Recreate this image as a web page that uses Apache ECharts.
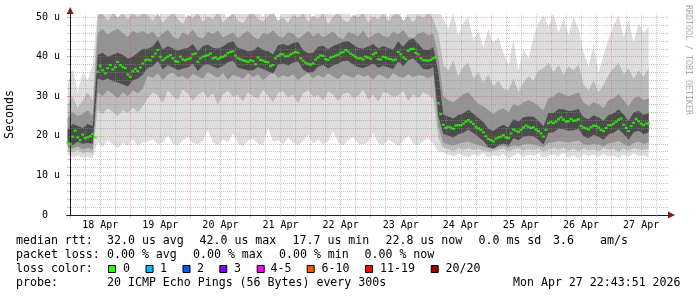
<!DOCTYPE html>
<html><head><meta charset="utf-8">
<script src="https://cdn.jsdelivr.net/npm/echarts@6/dist/echarts.min.js"></script>
<style>html,body{margin:0;padding:0;background:#fff}#c{width:697px;height:297px}</style>
</head><body><div id="c"></div>
<script>
// ---------- DATA ----------
// hours relative to Apr 18 00:00; graph spans Apr 17 22:43:51 .. Apr 27 22:43:51
const graphStartHour = -1.2692;
const graphEndHour = 238.7308;

// median RTT (us), one value per hour starting at hour -1
const medianStartHour = -1, medianStepHours = 1;
const medianRtt = [
18.3,18.0,19.8,21.3,19.6,18.9,20.3,19.4,19.6,19.9,20.5,19.6,
36.2,37.6,36.6,35.8,37.1,37.9,36.8,37.4,38.7,37.9,37.4,37.1,35.5,34.9,36.3,36.9,36.4,37.3,38.3,39.1,
39.3,39.1,40.0,40.8,41.7,40.0,39.1,39.6,40.0,40.4,39.6,38.9,38.7,40.0,39.3,39.1,39.4,39.6,40.6,40.8,38.7,39.6,40.0,40.2,40.4,40.8,39.6,
39.8,39.4,39.8,40.0,40.3,40.9,41.2,41.4,40.3,39.6,39.3,39.1,38.9,38.7,39.1,38.9,38.1,39.8,39.2,39.0,38.7,38.6,37.6,37.9,39.6,40.2,40.6,40.6,40.1,40.2,40.6,40.9,41.2,41.0,39.6,39.0,38.5,38.2,38.0,38.3,39.3,39.8,40.3,40.2,39.4,39.2,39.8,40.0,40.3,40.5,41.0,41.2,41.7,41.3,40.8,40.4,40.0,39.6,
39.6,39.3,40.0,39.8,39.5,40.6,41.0,39.4,39.3,40.0,39.8,39.5,39.4,39.1,39.3,41.2,40.6,39.8,39.4,41.5,41.9,42.0,41.0,40.6,39.6,39.1,39.1,39.0,39.2,39.6,39.9,
28.3,25.5,22.8,
22.0,22.3,22.1,21.8,22.6,22.7,22.7,23.1,23.6,24.0,23.5,23.0,22.3,21.9,21.5,20.9,19.9,19.2,18.9,18.6,19.3,19.6,19.8,20.2,
19.6,19.5,20.6,21.6,21.3,21.0,21.5,22.1,22.6,22.3,22.0,22.2,21.6,21.2,20.6,19.8,21.5,23.2,23.5,23.2,23.6,24.2,24.7,24.1,23.6,23.7,24.3,23.8,23.9,24.2,22.5,22.1,21.9,21.6,22.2,22.6,22.5,22.1,21.5,21.2,22.0,22.7,22.7,23.1,23.6,24.1,24.4,22.8,22.0,21.2,22.5,23.3,24.3,23.7,23.1,22.7,23.1,23.2
];

// smoke bands (ping rank envelopes, us), one value per 2 hours starting at hour -1
const bandStartHour = -1, bandStepHours = 2;
const smokeLo1 = [
15.2,14.6,15.0,14.4,14.8,14.2,
18.5,17.2,18.8,17.8,16.9,18.2,17.5,19.0,17.6,18.3,
18.6,19.2,17.8,18.4,20.1,18.0,17.5,18.9,19.6,18.2,17.9,18.7,21.5,18.3,17.6,19.0,18.4,20.6,18.1,17.4,18.8,19.3,18.0,17.7,22.0,18.5,18.9,17.8,19.5,18.2,17.6,18.7,20.3,18.0,19.1,17.9,18.6,21.2,18.3,17.5,18.9,19.7,18.1,17.8,18.5,20.8,18.2,17.6,19.0,18.4,17.3,18.8,19.9,18.1,17.7,18.6,19.4,18.0,
16.0,
15.8,15.2,14.8,15.5,15.0,14.6,15.3,14.9,15.6,14.5,15.1,14.7,15.4,14.3,15.0,15.7,14.6,15.2,14.9,15.5,14.4,15.0,15.3,14.8,15.6,14.5,15.1,14.2,15.4,14.9,15.2,14.6,15.5,14.8,15.0,14.4,15.3,14.7,15.6,14.9,15.1,14.5
];
const smokeHi1 = [
33,37,31,36,34,38,
52,50,52,52,49.5,52,52,51,52,52,
52,52,49.5,52,52,51,52,52,48.5,52,52,52,50.5,52,52,52,49,52,52,51.5,52,52,52,50,52,52,48.8,52,52,52,51,52,52,49.5,52,52,52,50.5,52,52,52,49,52,52,51.5,52,52,52,50,52,52,48.5,52,52,52,51,52,52,
52,
49.5,47.0,51.0,45.5,48.5,50.0,44.0,46.5,42.5,47.0,43.5,45.0,41.0,38.0,44.5,36.5,42.0,39.5,45.0,48.5,50.5,47.5,51.0,46.0,49.5,45.5,50.0,47.0,41.0,37.5,43.0,36.0,40.5,44.5,48.0,50.5,45.0,49.5,43.5,48.5,46.0,47.5
];
const smokeLo2 = [
16.2,15.8,16.5,15.6,16.0,15.5,
26.5,25.5,27,26,25,26.5,25.8,27.2,26,27.5,
29.5,31.0,30.2,28.4,31.5,30.0,29.2,31.8,30.6,28.9,30.4,31.2,29.6,30.8,27.8,30.5,31.4,29.9,30.3,28.7,31.0,30.1,29.4,31.6,30.2,28.5,30.9,31.3,29.7,30.4,28.2,30.8,31.5,29.9,30.3,29.0,31.2,30.5,28.8,30.6,31.0,29.5,30.1,31.7,29.2,30.4,28.6,31.1,30.7,29.8,30.2,31.4,28.9,30.5,29.6,31.0,30.3,29.4,
19.5,
17.0,16.6,16.2,16.8,16.5,16.9,16.4,16.7,16.3,16.0,16.2,16.5,16.8,16.1,16.6,16.9,16.3,16.7,16.4,16.8,16.0,16.6,16.9,16.5,17.0,16.3,16.7,16.1,16.8,16.4,16.6,16.2,16.9,16.5,16.7,16.0,16.8,16.3,16.9,16.6,16.4,16.7
];
const smokeHi2 = [
28,30,27,29,31,29,
50.5,51,49,51,50,51,49.5,51,50,51,
50.5,49.0,51.0,48.5,50.0,51.2,49.5,48.2,50.6,49.8,51.0,48.8,50.2,49.4,51.3,48.6,50.0,50.8,49.2,48.4,50.5,51.0,49.6,48.9,50.3,51.2,49.0,50.0,48.5,50.7,49.8,51.1,48.7,50.4,49.5,50.9,48.3,50.1,51.0,49.3,48.8,50.6,49.9,51.2,48.6,50.2,49.4,50.8,48.9,50.5,51.0,49.1,50.3,48.7,50.6,49.8,51.1,49.5,
46,
38.0,36.5,39.0,35.0,37.5,38.5,34.5,36.0,33.5,35.5,32.5,34.0,32.0,31.5,34.5,31.0,33.5,35.0,34.0,36.5,37.0,38.5,36.0,38.0,35.5,37.5,36.5,38.0,33.0,31.5,34.0,31.0,33.0,35.5,37.0,38.5,35.5,37.0,34.5,36.5,35.0,37.0
];
const smokeLo3 = [
17.0,16.8,17.3,16.6,17.0,16.5,
31,30,31.5,30.5,29.5,31,30,31.5,30.8,32,
35.2,34.6,35.8,34.1,35.5,36.0,34.8,35.1,34.3,35.7,35.0,34.5,36.2,35.3,34.7,35.9,34.2,35.4,35.0,34.4,35.8,34.9,35.5,34.1,35.2,36.1,34.6,35.3,34.8,35.6,34.0,35.1,35.9,34.5,35.4,34.7,35.8,35.0,34.3,35.6,35.2,34.6,35.7,34.9,35.3,34.2,35.5,35.1,34.4,35.9,35.0,34.7,35.6,34.8,35.4,35.2,34.5,35.3,
22.5,
18.2,17.8,17.5,18.0,18.3,18.6,18.1,17.7,17.3,16.9,16.7,17.2,17.5,17.0,17.6,17.4,17.9,18.0,17.8,17.5,17.1,18.2,18.4,18.7,18.5,18.3,18.6,18.8,17.9,17.6,18.0,17.8,17.3,18.1,18.3,18.7,18.0,17.4,18.2,18.5,18.0,18.3
];
const smokeHi3 = [
24.5,26,25,25.5,26.5,25,
46,47,45.5,46.5,47,46,45,46.5,46,46.5,
45.6,46.4,44.8,45.9,46.8,45.1,44.5,46.2,45.4,46.9,45.0,44.6,46.3,45.7,46.6,44.9,45.5,46.1,44.7,45.8,46.5,45.2,44.4,46.0,45.6,46.7,45.3,44.8,46.2,45.9,44.6,45.4,46.5,45.1,46.0,44.9,45.7,46.4,45.0,44.5,46.3,45.8,45.2,46.6,44.7,45.5,46.1,45.3,44.9,46.4,45.6,46.8,45.0,44.6,45.9,46.3,45.4,45.8,
40,
30.0,29.0,28.5,29.5,30.5,31.0,29.5,28.0,27.5,26.5,25.5,26.5,27.0,26.0,28.0,27.5,28.5,29.0,28.5,27.5,26.5,29.5,30.0,31.0,30.5,30.0,30.5,31.0,28.5,27.5,28.5,28.0,27.0,29.0,29.5,30.5,29.0,27.5,29.5,30.0,29.0,29.5
];
const smokeLo4 = [
18.0,17.6,18.5,18.0,18.2,18.0,
34.5,34,34.5,33.8,33.5,33.0,32.5,34,34.5,35.5,
37.2,37.6,38.9,36.8,37.9,37.3,36.6,37.0,37.3,38.2,36.4,37.8,38.1,37.5,37.0,37.7,38.6,39.0,37.2,36.9,36.5,36.6,37.4,36.9,36.3,35.7,38.0,38.3,37.8,38.5,38.8,36.8,36.0,36.1,37.5,37.9,37.0,37.8,38.2,38.9,39.0,38.0,37.4,37.1,37.6,38.3,37.2,37.7,37.3,36.9,38.8,37.6,39.1,39.6,38.3,36.9,36.8,37.4,
25.0,
20.5,20.0,19.6,20.4,20.8,21.6,20.7,19.7,18.7,17.2,16.8,17.6,18.1,17.5,19.4,18.9,19.8,20.0,19.9,19.0,17.8,20.8,20.9,21.8,21.7,21.3,21.4,21.8,19.9,19.4,20.3,19.8,19.0,20.4,20.8,21.7,20.5,19.0,20.9,21.3,20.4,20.9
];
const smokeHi4 = [
21.5,23,22.5,22,23,22.5,
40.5,41,40,40.5,41,40.5,39.5,40,41,42,
42.0,42.6,44.3,41.8,42.7,42.1,41.5,42.0,42.2,43.2,41.4,42.7,43.0,42.3,42.1,42.6,43.5,44.0,42.2,41.9,41.3,41.6,42.5,41.7,41.4,40.6,42.9,43.2,42.8,43.5,43.7,41.7,40.9,41.0,42.5,42.8,41.9,42.7,43.2,43.8,44.0,43.0,42.3,42.0,42.6,43.2,42.1,42.7,42.2,41.8,43.9,42.5,44.1,44.6,43.3,41.8,41.7,42.4,
36,
25.4,24.9,24.4,25.3,25.7,26.6,25.6,24.5,23.5,21.8,21.2,22.2,22.8,22.1,24.2,23.6,24.7,24.9,24.8,23.8,22.4,25.8,25.8,26.8,26.7,26.3,26.4,26.8,24.7,24.2,25.2,24.7,23.8,25.3,25.7,26.7,25.4,23.8,25.9,26.3,25.3,25.8
];

// tick labels
const dayLabels = ['18 Apr','19 Apr','20 Apr','21 Apr','22 Apr','23 Apr','24 Apr','25 Apr','26 Apr','27 Apr'];
const yTickValues = [0, 10, 20, 30, 40, 50];
const yTickLabels = ['0  ', '10 u', '20 u', '30 u', '40 u', '50 u'];

// legend / statistics texts
const rttStats = ['32.0 us avg', '42.0 us max', '17.7 us min', '22.8 us now', '0.0 ms sd', '3.6', 'am/s'];
const lossStats = ['0.00 % avg', '0.00 % max', '0.00 % min', '0.00 % now'];
const lossLabels = ['0', '1', '2', '3', '4-5', '6-10', '11-19', '20/20'];
const lossColors = ['#26ff00', '#00b8ff', '#0059ff', '#7e00ff', '#ff00ff', '#ff5500', '#ff0000', '#a00000'];
const probeText = '20 ICMP Echo Pings (56 Bytes) every 300s';
const dateText = 'Mon Apr 27 22:43:51 2026';

// ---------- LAYOUT / STYLE ----------
const MONO = 'DejaVu Sans Mono';
const smokeColors = ['#dddddd', '#bbbbbb', '#939393', '#4c4c4c'];
const gridMinor = 'rgba(143,143,143,0.5)';
const gridMajor = 'rgba(222,79,79,0.42)';
const rttX = [107, 199.5, 292.5, 385.5, 478.5, 553, 600];
const lossX = [107, 193, 279, 364.5];
const boxX = [108.5, 146, 183, 219.8, 257.2, 307.2, 365.5, 431.2];
const boxLabelX = [123, 160, 197, 234, 270.5, 321.5, 380, 445.5];
const lineY = [241, 255, 269, 283];

const bandX = i => bandStartHour + i * bandStepHours;
const bands = [[smokeLo1, smokeHi1], [smokeLo2, smokeHi2], [smokeLo3, smokeHi3], [smokeLo4, smokeHi4]];
const series = [];
bands.forEach(([lo, hi], b) => {
  series.push({
    type: 'custom', silent: true, clip: true, z: 2 + b * 0.01,
    encode: { x: 0, y: [1, 2] },
    data: lo.map((v, i) => [bandX(i), v, hi[i]]),
    renderItem: (params, api) => {
      if (params.dataIndex !== 0) return null;
      const pts = [];
      for (let i = 0; i < hi.length; i++) pts.push(api.coord([bandX(i), hi[i]]));
      for (let i = lo.length - 1; i >= 0; i--) pts.push(api.coord([bandX(i), lo[i]]));
      return { type: 'polygon', shape: { points: pts }, style: { fill: smokeColors[b] } };
    }
  });
});
series.push({
  type: 'scatter', symbol: 'rect', symbolSize: [3, 2.2], silent: true, z: 12,
  itemStyle: { color: lossColors[0] },
  data: medianRtt.map((v, i) => [medianStartHour + i * medianStepHours, v])
});

const minorHours = [], midnightHours = [];
dayLabels.forEach((_, d) => { midnightHours.push(d * 24); [6, 12, 18].forEach(h => minorHours.push(d * 24 + h)); });
const noonHours = dayLabels.map((_, d) => d * 24 + 12);
const minorY = [], majorY = yTickValues.filter(v => v > 0);
for (let v = 2; v < 50; v += 2) if (v % 10) minorY.push(v);

const txt = (x, y, text, extra) => ({ type: 'text', x, y, silent: true,
  style: Object.assign({ text, fontFamily: MONO, fontSize: 11.6, fill: '#000', verticalAlign: 'middle', align: 'left' }, extra || {}) });
const graphic = [
  txt(16, lineY[0], 'median rtt:'), ...rttStats.map((t, i) => txt(rttX[i], lineY[0], t)),
  txt(16, lineY[1], 'packet loss:'), ...lossStats.map((t, i) => txt(lossX[i], lineY[1], t)),
  txt(16, lineY[2], 'loss color:'),
  ...lossLabels.map((t, i) => txt(boxLabelX[i], lineY[2], t)),
  ...lossColors.map((c, i) => ({ type: 'rect', silent: true, shape: { x: boxX[i], y: 265.5, width: 7, height: 7 },
    style: { fill: c, stroke: '#000', lineWidth: 1 } })),
  txt(16, lineY[3], 'probe:'), txt(107, lineY[3], probeText), txt(513, lineY[3], dateText),
  { type: 'text', x: 688.5, y: 5, rotation: -Math.PI / 2, silent: true,
    style: { text: 'RRDTOOL / TOBI OETIKER', fontFamily: MONO, fontSize: 8.3, fill: '#aaaaaa', align: 'left', verticalAlign: 'middle' } }
];

const chart = echarts.init(document.getElementById('c'), null, { renderer: 'canvas' });
chart.setOption({
  animation: false,
  backgroundColor: '#ffffff',
  grid: { left: 67, right: 29, top: 14, bottom: 82, containLabel: false, outerBoundsMode: 'none' },
  xAxis: [{
    type: 'value', min: graphStartHour, max: graphEndHour, position: 'bottom', z: 11,
    axisLine: { show: true, lineStyle: { color: '#1f1f1f', width: 1 } },
    axisTick: { show: true, customValues: minorHours, length: 2, lineStyle: { color: gridMinor } },
    splitLine: { show: true, lineStyle: { color: gridMinor, width: 1, type: [1, 1] } },
    axisLabel: { customValues: noonHours, margin: 5, fontFamily: MONO, fontSize: 10, color: '#000',
      formatter: v => dayLabels[Math.round((v - 12) / 24)] }
  }, {
    type: 'value', min: graphStartHour, max: graphEndHour, position: 'bottom', z: 10,
    axisLine: { show: true, symbol: ['none', 'triangle'], symbolSize: [7, 7], symbolOffset: [0, 3.5],
      lineStyle: { color: '#801f1f', width: 1 } },
    axisTick: { show: true, customValues: midnightHours, length: 3, lineStyle: { color: gridMajor } },
    splitLine: { show: true, lineStyle: { color: gridMajor, width: 1, type: [1, 1] } },
    axisLabel: { show: false }
  }],
  yAxis: [{
    type: 'value', min: 0, max: 50.8, position: 'left', z: 11,
    name: 'Seconds', nameLocation: 'middle', nameRotate: 90, nameGap: 57,
    nameTextStyle: { fontFamily: MONO, fontSize: 11.6, color: '#000', verticalAlign: 'middle' },
    axisLine: { show: true, lineStyle: { color: '#1f1f1f', width: 1 } },
    axisTick: { show: true, customValues: minorY, length: 2, lineStyle: { color: gridMinor } },
    splitLine: { show: true, lineStyle: { color: gridMinor, width: 1, type: [1, 1] } },
    axisLabel: { customValues: yTickValues, margin: 7, fontFamily: MONO, fontSize: 10, color: '#000',
      formatter: v => yTickLabels[yTickValues.indexOf(v)] }
  }, {
    type: 'value', min: 0, max: 50.8, position: 'left', z: 10,
    axisLine: { show: true, symbol: ['none', 'triangle'], symbolSize: [7, 7], symbolOffset: [0, 3.5],
      lineStyle: { color: '#801f1f', width: 1 } },
    axisTick: { show: true, customValues: majorY, length: 3, lineStyle: { color: gridMajor } },
    splitLine: { show: true, lineStyle: { color: gridMajor, width: 1, type: [1, 1] } },
    axisLabel: { show: false }
  }],
  series,
  graphic
});
</script></body></html>
